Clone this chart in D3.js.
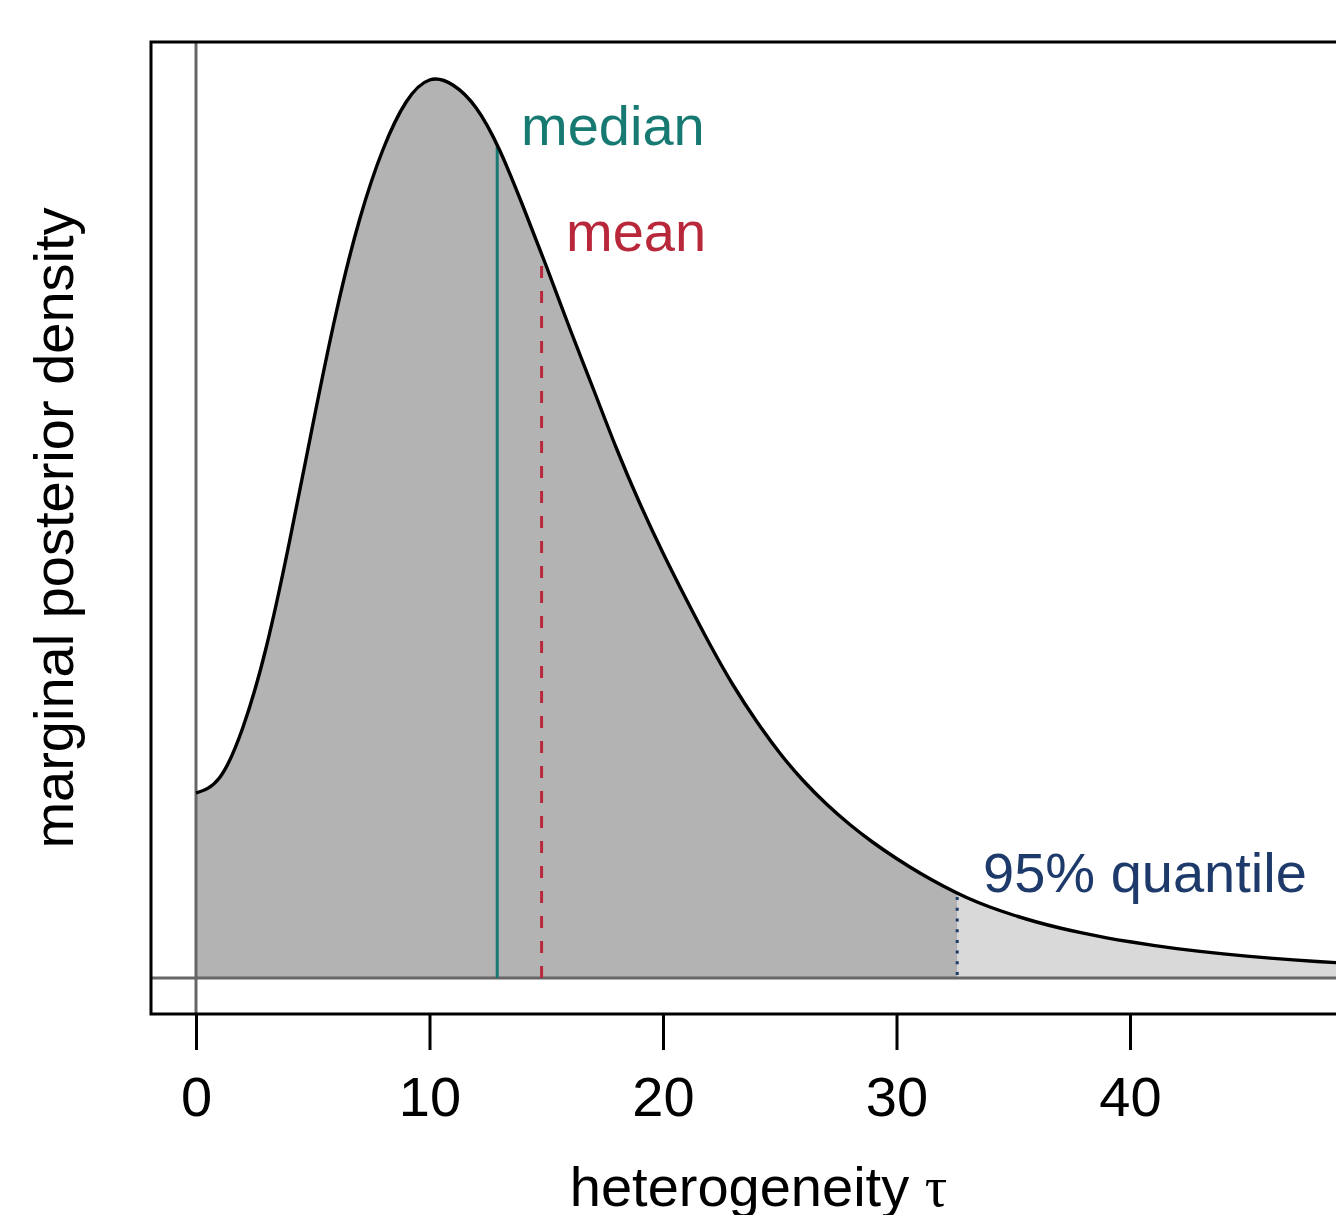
<!DOCTYPE html>
<html>
<head>
<meta charset="utf-8">
<script src="https://cdn.jsdelivr.net/npm/d3@7"></script>
<style>
  html, body { margin: 0; padding: 0; background: #fff; overflow: hidden; }
  text { font-family: "Liberation Sans", Arial, Helvetica, sans-serif; }
</style>
</head>
<body>
<svg id="chart" width="1336" height="1215"></svg>
<script>
// ---- data ----
const tau = [0, 1, 2, 3, 4, 5, 6, 7, 8, 9, 10, 11, 12, 13, 14, 15, 16, 17, 18, 19, 20, 21, 22, 23, 24, 25, 26, 27, 28, 29, 30, 31, 32, 33, 34, 35, 36, 37, 38, 39, 40, 41, 42, 43, 44, 45, 46, 47, 48, 49, 50, 51, 52];
const density = [0.01850, 0.02000, 0.02500, 0.03300, 0.04360, 0.05530, 0.06650, 0.07580, 0.08280, 0.08760, 0.08980, 0.08930, 0.08700, 0.08280, 0.07720, 0.07120, 0.06500, 0.05900, 0.05300, 0.04750, 0.04250, 0.03785, 0.03340, 0.02930, 0.02570, 0.02250, 0.01975, 0.01740, 0.01535, 0.01355, 0.01195, 0.01050, 0.00920, 0.00805, 0.00710, 0.00630, 0.00560, 0.00500, 0.00448, 0.00402, 0.00362, 0.00326, 0.00294, 0.00266, 0.00241, 0.00219, 0.00199, 0.00181, 0.00165, 0.00151, 0.00138, 0.00127, 0.00117];
const xTicks = [0, 10, 20, 30, 40];
const medianTau = 12.9;
const meanTau = 14.8;
const q95Tau = 32.6;
const labels = { median: "median", mean: "mean", q95: "95% quantile" };

const data = tau.map((t, i) => ({ t, d: density[i] }));
// linear lookup of the density at a marker position
const densAt = t => {
  const i = d3.bisector(p => p.t).right(data, t);
  const a = data[i - 1], b = data[i];
  if (!b) return a.d;
  return a.d + (b.d - a.d) * (t - a.t) / (b.t - a.t);
};

const svg = d3.select("#chart");
const FS = 56;

// scales
const x = d3.scaleLinear().domain([0, 40]).range([196, 1130]);
const yMax = 0.0900;
const y = d3.scaleLinear().domain([0, yMax]).range([978, 78]);
const x0 = x.invert(151), x1 = x.invert(1370);
const yLo = y.invert(1014), yHi = y.invert(42);

const defs = svg.append("defs");
defs.append("clipPath").attr("id", "clip")
  .append("rect")
  .attr("x", x(x0)).attr("y", y(yHi))
  .attr("width", x(x1) - x(x0)).attr("height", y(yLo) - y(yHi));
defs.append("clipPath").attr("id", "clipLeft")
  .append("rect")
  .attr("x", x(x0)).attr("y", y(yHi))
  .attr("width", x(q95Tau) - x(x0)).attr("height", y(yLo) - y(yHi));

const g = svg.append("g").attr("clip-path", "url(#clip)");

const curve = d3.curveNatural;
const area = d3.area().x(p => x(p.t)).y0(y(0)).y1(p => y(p.d)).curve(curve);
const line = d3.line().x(p => x(p.t)).y(p => y(p.d)).curve(curve);

g.append("path").datum(data).attr("d", area).attr("fill", "#d9d9d9");
g.append("path").datum(data).attr("d", area).attr("fill", "#b3b3b3")
  .attr("clip-path", "url(#clipLeft)");

// reference lines (grey40)
g.append("line").attr("x1", x(0)).attr("x2", x(0)).attr("y1", y(yHi)).attr("y2", y(yLo))
  .attr("stroke", "#666666").attr("stroke-width", 3);
g.append("line").attr("x1", x(x0)).attr("x2", x(x1)).attr("y1", y(0)).attr("y2", y(0))
  .attr("stroke", "#666666").attr("stroke-width", 3);

// markers
g.append("line").attr("x1", x(medianTau)).attr("x2", x(medianTau))
  .attr("y1", y(0)).attr("y2", y(densAt(medianTau)))
  .attr("stroke", "#167a73").attr("stroke-width", 3);
g.append("line").attr("x1", x(meanTau)).attr("x2", x(meanTau))
  .attr("y1", y(0)).attr("y2", y(densAt(meanTau)))
  .attr("stroke", "#b8283a").attr("stroke-width", 3).attr("stroke-dasharray", "12,13");
g.append("line").attr("x1", x(q95Tau)).attr("x2", x(q95Tau))
  .attr("y1", y(0) - 3).attr("y2", y(densAt(q95Tau)))
  .attr("stroke", "#1d3a6b").attr("stroke-width", 3).attr("stroke-dasharray", "3,7.7");

// density curve
g.append("path").datum(data).attr("d", line)
  .attr("fill", "none").attr("stroke", "#000").attr("stroke-width", 3.4);

// labels
svg.append("text").attr("x", 521).attr("y", 145).attr("font-size", FS)
  .attr("fill", "#167a73").text(labels.median);
svg.append("text").attr("x", 566).attr("y", 251).attr("font-size", FS)
  .attr("fill", "#b8283a").text(labels.mean);
svg.append("text").attr("x", 983).attr("y", 892).attr("font-size", FS)
  .attr("fill", "#1d3a6b").text(labels.q95);

// box
svg.append("rect").attr("x", x(x0)).attr("y", y(yHi))
  .attr("width", x(x1) - x(x0)).attr("height", y(yLo) - y(yHi))
  .attr("fill", "none").attr("stroke", "#000").attr("stroke-width", 3);

// x axis
const xAxis = d3.axisBottom(x).tickValues(xTicks).tickSize(36).tickPadding(26).tickSizeOuter(0);
const ax = svg.append("g").attr("transform", `translate(0,${y(yLo)})`).call(xAxis);
ax.select(".domain").remove();
ax.selectAll(".tick line").attr("stroke", "#000").attr("stroke-width", 3);
ax.selectAll(".tick text").attr("font-size", FS).attr("fill", "#000")
  .attr("font-family", "Liberation Sans, Arial, sans-serif").attr("dy", "0.71em");

// axis titles
const xt = svg.append("text").attr("x", (x(x0) + x(x1)) / 2 - 2).attr("y", 1206)
  .attr("text-anchor", "middle").attr("font-size", FS).attr("fill", "#000");
xt.append("tspan").text("heterogeneity ");
xt.append("tspan").attr("font-family", "Liberation Serif, DejaVu Serif, serif").text("τ");

svg.append("text").attr("transform", `translate(73,${(y(yHi) + y(yLo)) / 2}) rotate(-90)`)
  .attr("text-anchor", "middle").attr("font-size", FS).attr("fill", "#000")
  .text("marginal posterior density");
</script>
</body>
</html>
